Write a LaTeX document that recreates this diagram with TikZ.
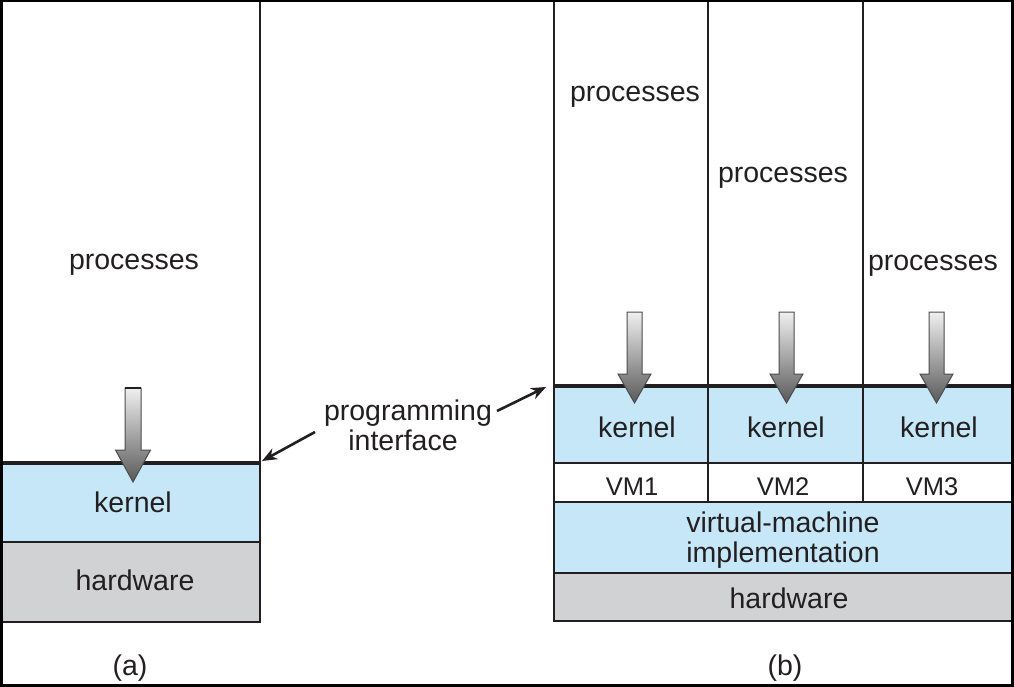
\documentclass[tikz,border=0pt]{standalone}
\usepackage{fontspec}
\setmainfont{Liberation Sans}
\usetikzlibrary{arrows.meta}
\definecolor{ink}{HTML}{231F20}
\definecolor{kblue}{HTML}{C6E7F8}
\definecolor{hgray}{HTML}{D1D2D4}
\begin{document}
\begin{tikzpicture}[x=1pt,y=-1pt,
  ln/.style={line width=2pt, draw=ink},
  kl/.style={line width=3.5pt, draw=ink},
  txt/.style={font=\fontsize{28.5}{30}\selectfont, text=ink, align=center, inner sep=0pt, anchor=base},
  vmtxt/.style={txt, font=\fontsize{25.5}{28}\selectfont},
  parrow/.style={line width=2.6pt, draw=ink, -{Stealth[length=15pt,width=12pt]}},
  darrow/.style={top color=gray!12, bottom color=gray!70!black, draw=gray!60!black, line width=1pt}
]
\useasboundingbox (0,0) rectangle (1014,687);
\fill[white] (0,0) rectangle (1014,687);
% ---------- (a) ----------
\fill[kblue] (1.5,463) rectangle (260,542);
\fill[hgray] (1.5,542) rectangle (260,622);
\draw[ln] (1.5,1) rectangle (260,622);
\draw[ln] (1.5,542) -- (260,542);
\draw[kl] (1.5,463) -- (260,463);
% ---------- (b) ----------
\fill[kblue] (554,386) rectangle (1012,463);
\fill[kblue] (554,502) rectangle (1012,573);
\fill[hgray] (554,573) rectangle (1012,621);
\draw[ln] (554,1) rectangle (1012,621);
\draw[ln] (708,1) -- (708,502);
\draw[ln] (863,1) -- (863,502);
\draw[ln] (554,463) -- (1012,463);
\draw[ln] (554,502) -- (1012,502);
\draw[ln] (554,573) -- (1012,573);
\draw[kl] (554,386) -- (1012,386);
% outer frame
\draw[line width=3pt, draw=black] (1.5,1) rectangle (1012.5,685.5);
% ---------- shaded arrows ----------
\shade[darrow] (125,388) -- (141,388) -- (141,450) -- (150.5,450) -- (133,482) -- (115.5,450) -- (125,450) -- cycle;
\draw[line width=2.5pt, draw=ink] (125,388) -- (141,388);
\shade[darrow] (627,312) -- (642,312) -- (642,374) -- (651,374) -- (634.5,403) -- (618,374) -- (627,374) -- cycle;
\shade[darrow] (779,312) -- (794,312) -- (794,374) -- (803,374) -- (786.5,403) -- (770,374) -- (779,374) -- cycle;
\shade[darrow] (929,312) -- (944,312) -- (944,374) -- (953,374) -- (936.5,403) -- (920,374) -- (929,374) -- cycle;
% ---------- texts ----------
\node[txt] (pa) at (134,269) {processes};
\node[txt] (ka) at (133,512) {kernel};
\node[txt] (ha) at (135,590) {hardware};
\node[txt] (p1) at (635,102) {processes};
\node[txt] (p2) at (783,183) {processes};
\node[txt] (p3) at (933,270) {processes};
\node[txt] (k1) at (637,437) {kernel};
\node[txt] (k2) at (786,437) {kernel};
\node[txt] (k3) at (939,437) {kernel};
\node[vmtxt] (v1) at (632,495) {VM1};
\node[vmtxt] (v2) at (783,495) {VM2};
\node[vmtxt] (v3) at (932,495) {VM3};
\node[txt] (vm) at (783,532) {virtual-machine};
\node[txt] (vmi) at (783,562) {implementation};
\node[txt] (hb) at (789,608) {hardware};
\node[txt] (pg) at (408,420) {programming};
\node[txt] (pif) at (403,450) {interface};
\node[txt] (la) at (130,675) {(a)};
\node[txt] (lb) at (785,675) {(b)};
% ---------- programming interface arrows ----------
\coordinate (lk) at (262,461);
\coordinate (rk) at (546,387);
\coordinate (lt) at (315,432);
\coordinate (rt) at (497,411);
\draw[parrow] (lt) -- (lk);
\draw[parrow] (rt) -- (rk);
\end{tikzpicture}
\end{document}
